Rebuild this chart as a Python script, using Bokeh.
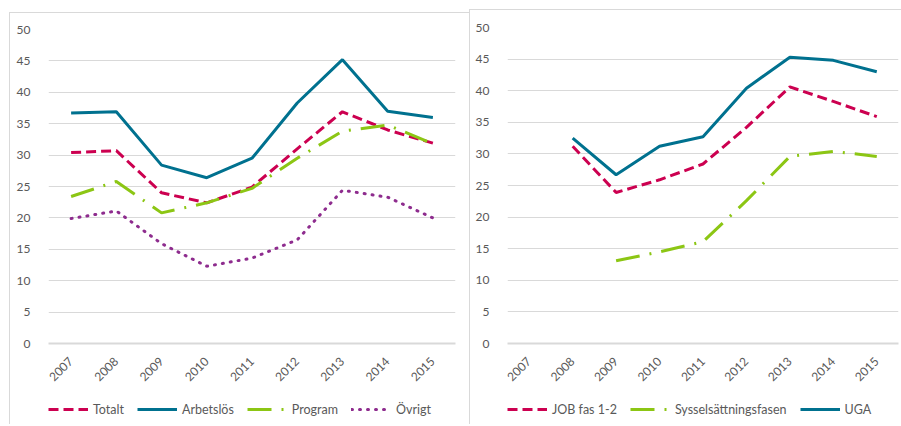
import math
from bokeh.plotting import figure
from bokeh.layouts import row, column
from bokeh.models import FixedTicker, Legend, LegendItem
from bokeh.embed import file_html
from bokeh.resources import INLINE

nan = float("nan")
years = ["2007", "2008", "2009", "2010", "2011", "2012", "2013", "2014", "2015"]

# Left panel
totalt = [30.4, 30.7, 24.0, 22.4, 24.9, 31.0, 36.9, 34.0, 31.9]
arbetslos = [36.7, 36.9, 28.4, 26.4, 29.5, 38.3, 45.2, 37.0, 36.0]
program = [23.4, 25.8, 20.8, 22.4, 24.7, 29.5, 33.8, 34.8, 31.8]
ovrigt = [19.9, 21.1, 15.9, 12.3, 13.6, 16.5, 24.4, 23.3, 20.0]

# Right panel
job_fas = [nan, 31.2, 23.9, 25.9, 28.4, 34.2, 40.6, 38.3, 35.9]
syssel = [nan, nan, 13.1, 14.5, 16.1, 22.6, 29.6, 30.4, 29.6]
uga = [nan, 32.5, 26.7, 31.2, 32.7, 40.4, 45.3, 44.8, 43.0]

y_ticks = [0, 5, 10, 15, 20, 25, 30, 35, 40, 45, 50]

CRIMSON = "#CC0050"
TEAL = "#00718F"
LIME = "#8CC614"
PURPLE = "#8E2C8E"
GRID = "#d9d9d9"
TXT = "#595959"
FONT = "Lato"

STY = {
    "dash": dict(line_color=CRIMSON, line_width=3, line_dash="10 5"),
    "solid": dict(line_color=TEAL, line_width=3),
    "ldd": dict(line_color=LIME, line_width=3, line_dash="24 10 2 10"),
    "dot": dict(line_color=PURPLE, line_width=3, line_dash="1 7", line_cap="round"),
}


def make_fig(width, height, top, left, right):
    p = figure(
        x_range=years,
        y_range=(0, 50),
        width=width,
        height=height,
        output_backend="svg",
        toolbar_location=None,
        min_border_left=left,
        min_border_right=right,
        min_border_top=top,
        min_border_bottom=51,
        outline_line_color=None,
    )
    p.xgrid.visible = False
    p.ygrid.grid_line_color = GRID
    p.yaxis.ticker = FixedTicker(ticks=y_ticks)
    p.yaxis.axis_line_color = None
    p.yaxis.major_tick_line_color = None
    p.yaxis.minor_tick_line_color = None
    p.yaxis.major_label_standoff = 12
    p.xaxis.axis_line_color = GRID
    p.xaxis.axis_line_width = 2
    p.xaxis.major_tick_line_color = None
    p.xaxis.major_label_orientation = math.pi / 4
    p.xaxis.major_label_standoff = 10
    for ax in (p.xaxis, p.yaxis):
        ax.major_label_text_font = FONT
        ax.major_label_text_font_size = "12px"
        ax.major_label_text_color = TXT
    return p


def make_legend_fig(width, entries):
    lf = figure(
        width=width,
        height=30,
        x_range=(0, 1),
        y_range=(0, 1),
        x_axis_type=None,
        y_axis_type=None,
        output_backend="svg",
        toolbar_location=None,
        min_border_left=32,
        min_border_right=0,
        min_border_top=0,
        min_border_bottom=0,
        outline_line_color=None,
    )
    items = []
    for label, key in entries:
        # proxy line kept outside the visible range; only its legend sample shows
        r = lf.line([5, 6], [5, 6], **STY[key])
        items.append(LegendItem(label=label, renderers=[r]))
    lg = Legend(
        items=items,
        orientation="horizontal",
        location="left",
        glyph_width=40,
        label_standoff=5,
        spacing=13,
        padding=5,
        margin=0,
        border_line_color=None,
        background_fill_alpha=0,
        label_text_font=FONT,
        label_text_font_size="12.5px",
        label_text_color=TXT,
    )
    lf.add_layout(lg)
    return lf


p1 = make_fig(459, 381, 16, 38, 14)
p1.line(years, totalt, **STY["dash"])
p1.line(years, arbetslos, **STY["solid"])
p1.line(years, program, **STY["ldd"])
p1.line(years, ovrigt, **STY["dot"])
l1 = make_legend_fig(459, [("Totalt", "dash"), ("Arbetslös", "solid"),
                           ("Program", "ldd"), ("Övrigt", "dot")])

p2 = make_fig(431, 384, 17, 37, 3)
p2.line(years, job_fas, **STY["dash"])
p2.line(years, syssel, **STY["ldd"])
p2.line(years, uga, **STY["solid"])
l2 = make_legend_fig(431, [("JOB fas 1-2", "dash"), ("Sysselsättningsfasen", "ldd"),
                           ("UGA", "solid")])

border = {"border-left": "1px solid #d9d9d9", "border-top": "1px solid #d9d9d9"}
c1 = column(p1, l1, margin=(12, 0, 0, 9), styles=border)
c2 = column(p2, l2, margin=(9, 0, 0, 0), styles=border)

layout = row(c1, c2)
open("out.html", "w").write(file_html(layout, INLINE))
